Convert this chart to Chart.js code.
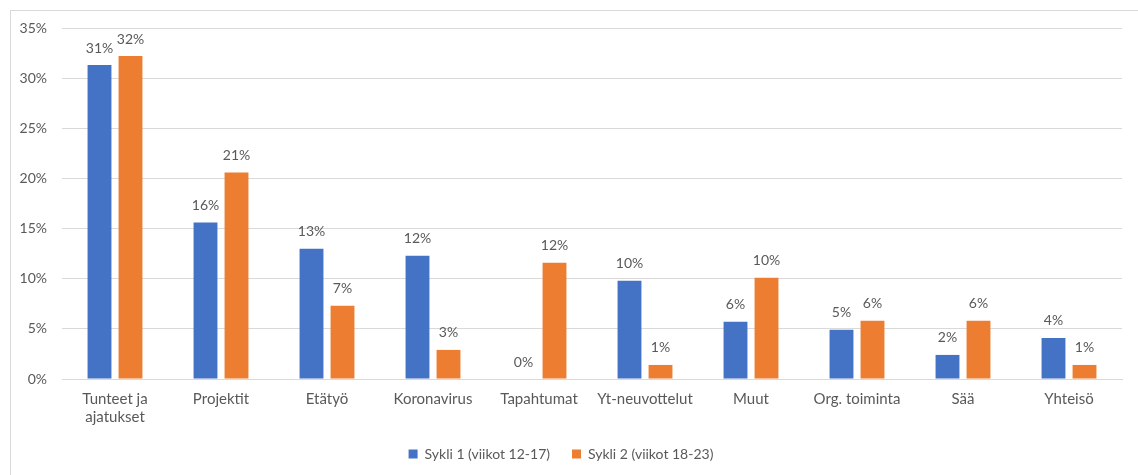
<!DOCTYPE html>
<html>
<head>
<meta charset="utf-8">
<script src="https://cdn.jsdelivr.net/npm/chart.js@4"></script>
<style>
  html, body { margin: 0; padding: 0; background: #fff; }
  #wrap { position: relative; width: 1138px; height: 475px; overflow: hidden; }
  #frame { position: absolute; left: 10px; top: 10px; width: 1200px; height: 500px; border-top: 1px solid #d9d9d9; border-left: 1px solid #d9d9d9; }
  canvas { position: absolute; left: 0; top: 0; }
</style>
</head>
<body>
<div id="wrap">
  <div id="frame"></div>
  <canvas id="c" width="1138" height="475"></canvas>
</div>
<script>
const categories = [["Tunteet ja", "ajatukset"], "Projektit", "Etätyö", "Koronavirus", "Tapahtumat", "Yt-neuvottelut", "Muut", "Org. toiminta", "Sää", "Yhteisö"];
const seriesNames = ["Sykli 1 (viikot 12-17)", "Sykli 2 (viikot 18-23)"];
const sykli1 = [31.3, 15.6, 13.0, 12.3, 0, 9.8, 5.7, 4.9, 2.4, 4.1];
const sykli2 = [32.2, 20.6, 7.3, 2.9, 11.6, 1.4, 10.1, 5.8, 5.8, 1.4];
const yTicks = [0, 5, 10, 15, 20, 25, 30, 35];

const FONT = "Lato, 'Open Sans', sans-serif";
const TXT = "#595959";

const dataLabels = {
  id: "dataLabels",
  afterDatasetsDraw(chart) {
    const ctx = chart.ctx;
    ctx.save();
    ctx.font = "14px " + FONT;
    ctx.fillStyle = TXT;
    ctx.textAlign = "center";
    ctx.textBaseline = "middle";
    chart.data.datasets.forEach((ds, i) => {
      const meta = chart.getDatasetMeta(i);
      meta.data.forEach((bar, j) => {
        const v = ds.data[j];
        ctx.fillText(Math.round(v) + "%", bar.x, bar.y - 17);
      });
    });
    ctx.restore();
  }
};

new Chart(document.getElementById("c"), {
  type: "bar",
  data: {
    labels: categories,
    datasets: [
      { label: seriesNames[0], data: sykli1, backgroundColor: "#4472C4", categoryPercentage: 0.585, barPercentage: 0.77 },
      { label: seriesNames[1], data: sykli2, backgroundColor: "#ED7D31", categoryPercentage: 0.585, barPercentage: 0.77 }
    ]
  },
  options: {
    responsive: false,
    animation: false,
    layout: { padding: { top: 28, right: 16, bottom: 4, left: 0 } },
    plugins: {
      legend: {
        position: "bottom",
        labels: {
          boxWidth: 9, boxHeight: 9, padding: 22,
          color: TXT,
          font: { family: FONT, size: 14 }
        }
      },
      tooltip: { enabled: false }
    },
    scales: {
      x: {
        grid: { display: false, drawTicks: false },
        border: { display: true, color: "#d9d9d9" },
        ticks: { color: TXT, font: { family: FONT, size: 15 }, padding: 11, maxRotation: 0, autoSkip: false },
        afterFit(s) { s.height = 46; }
      },
      y: {
        min: 0, max: 35,
        afterBuildTicks(s) { s.ticks = yTicks.map(v => ({ value: v })); },
        grid: { color: "#d9d9d9", drawTicks: false },
        border: { display: false },
        ticks: { color: TXT, font: { family: FONT, size: 14 }, padding: 15, callback: v => v + "%" },
        afterFit(s) { s.width = 62; }
      }
    }
  },
  plugins: [dataLabels]
});
</script>
</body>
</html>
